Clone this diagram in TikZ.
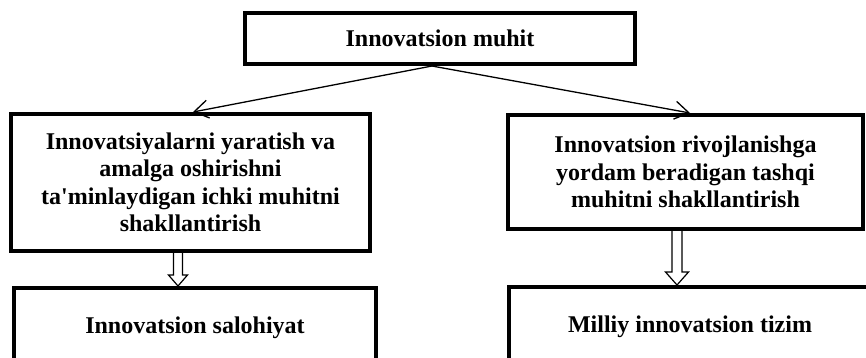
\documentclass[tikz,border=0pt]{standalone}
\usepackage{fontspec}
\newfontfamily\tnr{Liberation Serif}
\usetikzlibrary{arrows.meta,calc}
\begin{document}
\begin{tikzpicture}[x=1pt,y=-1pt,
  box/.style={draw, line width=4pt, rectangle, inner sep=0pt,
    font=\tnr\fontsize{24}{27.5}\selectfont\bfseries, align=center},
  link/.style={line width=1.3pt,
    -{Straight Barb[length=14pt,width=18pt,line width=1.3pt]}},
  hollow/.style={line width=1.2pt, fill=white, line join=miter}]
\useasboundingbox (0,0) rectangle (866,357);
\node[box, minimum width=390pt, minimum height=51pt] (top) at (440,38.5) {Innovatsion muhit};
\node[box, minimum width=359pt, minimum height=137pt] (L) at (190.5,182.5)
  {Innovatsiyalarni yaratish va\\ amalga oshirishni\\ ta'minlaydigan ichki muhitni\\ shakllantirish};
\node[box, minimum width=355pt, minimum height=114pt] (R) at (685.5,172)
  {Innovatsion rivojlanishga\\ yordam beradigan tashqi\\ muhitni shakllantirish};
\node[box, minimum width=362pt, minimum height=79pt] (BL) at (195,327.5) {Innovatsion salohiyat};
\node[box, minimum width=362pt, minimum height=79pt] (BR) at (690,326.5) {Milliy innovatsion tizim};
\draw[link] ([xshift=-8pt]top.south) -- ([xshift=2.5pt]L.north);
\draw[link] ([xshift=-8pt]top.south) -- ([xshift=4.5pt]R.north);
% hollow arrows
\coordinate (ls) at ([xshift=-12.5pt]L.south);
\coordinate (le) at ([xshift=-17pt]BL.north);
\draw[hollow] ($(ls)+(-4.5,0)$) -- ($(le)+(-4.5,-11)$) -- ($(le)+(-9.5,-11)$) -- (le)
  -- ($(le)+(9.5,-11)$) -- ($(le)+(4.5,-11)$) -- ($(ls)+(4.5,0)$);
\coordinate (rs) at ([xshift=-8.5pt]R.south);
\coordinate (re) at ([xshift=-13pt]BR.north);
\draw[hollow] ($(rs)+(-5,0)$) -- ($(re)+(-5,-13)$) -- ($(re)+(-11.5,-13)$) -- (re)
  -- ($(re)+(11.5,-13)$) -- ($(re)+(5,-13)$) -- ($(rs)+(5,0)$);
\end{tikzpicture}
\end{document}
